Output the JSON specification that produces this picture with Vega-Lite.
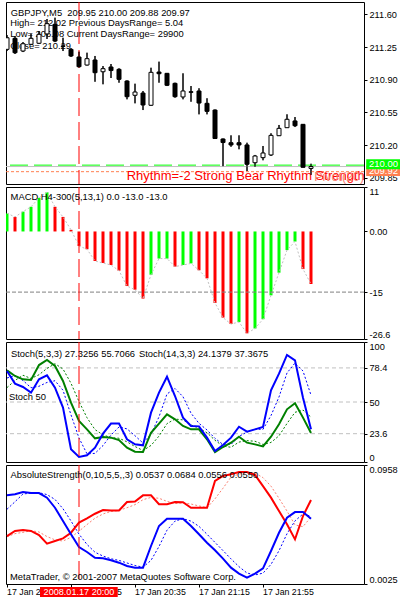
{
"$schema":"https://vega.github.io/schema/vega-lite/v6.json",
"background":"white",
"padding":{"left":2,"top":1,"right":0,"bottom":0},
"bounds":"flush",
"spacing":3,
"config":{
 "view":{"stroke":"black","strokeWidth":1},
 "font":"Liberation Sans",
 "axis":{"labelFont":"Liberation Sans","labelFontSize":9.2,"labelColor":"black","tickColor":"black","tickSize":3,"tickWidth":1,"domain":false,"grid":false,"labelPadding":2,"labelOverlap":false},
 "text":{"font":"Liberation Sans","fontSize":9.4,"align":"left","baseline":"alphabetic","color":"black"}
},
"datasets":{"bars":[
{"i":0,"o":211.225,"h":211.378,"l":211.207,"c":211.349,"m":4.5,"md":"up","s5":75.8,"s5s":70.0,"s14":76.4,"s14s":62.0,"ab":0.0720,"abs":0.0611,"ar":0.0401,"ars":0.0395},
{"i":1,"o":211.343,"h":211.368,"l":211.175,"c":211.189,"m":3.6,"md":"down","s5":65.3,"s5s":72.0,"s14":71.7,"s14s":68.0,"ab":0.0728,"abs":0.0670,"ar":0.0441,"ars":0.0420},
{"i":2,"o":211.207,"h":211.303,"l":211.196,"c":211.285,"m":4.9,"md":"up","s5":62.5,"s5s":67.9,"s14":68.9,"s14s":72.3,"ab":0.0746,"abs":0.0731,"ar":0.0448,"ars":0.0430},
{"i":3,"o":211.279,"h":211.392,"l":211.271,"c":211.343,"m":6.1,"md":"up","s5":57.8,"s5s":61.9,"s14":68.3,"s14s":69.6,"ab":0.0738,"abs":0.0737,"ar":0.0441,"ars":0.0443},
{"i":4,"o":211.290,"h":211.421,"l":211.282,"c":211.386,"m":8.3,"md":"up","s5":68.9,"s5s":63.1,"s14":80.8,"s14s":72.7,"ab":0.0738,"abs":0.0741,"ar":0.0409,"ars":0.0433},
{"i":5,"o":211.390,"h":211.550,"l":211.336,"c":211.500,"m":9.7,"md":"up","s5":72.2,"s5s":66.3,"s14":85.0,"s14s":78.0,"ab":0.0702,"abs":0.0726,"ar":0.0341,"ars":0.0397},
{"i":6,"o":211.493,"h":211.564,"l":211.303,"c":211.314,"m":6.1,"md":"down","s5":62.0,"s5s":67.7,"s14":80.0,"s14s":81.9,"ab":0.0623,"abs":0.0688,"ar":0.0362,"ars":0.0371},
{"i":7,"o":211.261,"h":211.349,"l":211.207,"c":211.257,"m":3.6,"md":"down","s5":45.3,"s5s":59.8,"s14":67.5,"s14s":77.5,"ab":0.0519,"abs":0.0615,"ar":0.0383,"ars":0.0362},
{"i":8,"o":211.225,"h":211.239,"l":211.143,"c":211.154,"m":0.4,"md":"down","s5":10.6,"s5s":39.3,"s14":49.4,"s14s":65.6,"ab":0.0415,"abs":0.0519,"ar":0.0427,"ars":0.0391},
{"i":9,"o":211.143,"h":211.200,"l":211.030,"c":211.039,"m":-3.6,"md":"down","s5":4.2,"s5s":20.0,"s14":34.2,"s14s":50.4,"ab":0.0315,"abs":0.0416,"ar":0.0506,"ars":0.0439},
{"i":10,"o":211.057,"h":211.189,"l":211.052,"c":211.125,"m":-4.4,"md":"down","s5":5.6,"s5s":6.8,"s14":27.2,"s14s":36.9,"ab":0.0276,"abs":0.0335,"ar":0.0540,"ars":0.0491},
{"i":11,"o":211.111,"h":211.154,"l":210.878,"c":210.975,"m":-7.3,"md":"down","s5":11.9,"s5s":7.2,"s14":19.7,"s14s":27.0,"ab":0.0231,"abs":0.0274,"ar":0.0576,"ars":0.0541},
{"i":12,"o":210.985,"h":211.046,"l":210.851,"c":211.018,"m":-7.8,"md":"down","s5":23.6,"s5s":13.7,"s14":20.8,"s14s":22.6,"ab":0.0226,"abs":0.0244,"ar":0.0605,"ars":0.0574},
{"i":13,"o":211.036,"h":211.068,"l":210.918,"c":210.998,"m":-8.3,"md":"down","s5":32.0,"s5s":22.5,"s14":20.3,"s14s":20.3,"ab":0.0211,"abs":0.0223,"ar":0.0601,"ars":0.0594},
{"i":14,"o":211.011,"h":211.022,"l":210.868,"c":210.904,"m":-9.7,"md":"down","s5":32.0,"s5s":29.2,"s14":18.3,"s14s":19.8,"ab":0.0192,"abs":0.0210,"ar":0.0601,"ars":0.0602},
{"i":15,"o":210.886,"h":210.893,"l":210.690,"c":210.718,"m":-13.5,"md":"down","s5":18.9,"s5s":27.6,"s14":11.9,"s14s":16.8,"ab":0.0166,"abs":0.0190,"ar":0.0668,"ars":0.0623},
{"i":16,"o":210.733,"h":210.857,"l":210.647,"c":210.768,"m":-14.4,"md":"down","s5":14.7,"s5s":21.9,"s14":8.6,"s14s":12.9,"ab":0.0153,"abs":0.0170,"ar":0.0671,"ars":0.0647},
{"i":17,"o":210.757,"h":210.779,"l":210.575,"c":210.629,"m":-16.6,"md":"down","s5":13.9,"s5s":15.8,"s14":8.3,"s14s":9.6,"ab":0.0153,"abs":0.0157,"ar":0.0720,"ars":0.0686},
{"i":18,"o":210.626,"h":211.028,"l":210.620,"c":210.979,"m":-10.7,"md":"up","s5":41.1,"s5s":23.2,"s14":24.4,"s14s":13.8,"ab":0.0323,"abs":0.0210,"ar":0.0720,"ars":0.0704},
{"i":19,"o":210.982,"h":211.093,"l":210.868,"c":210.964,"m":-6.7,"md":"up","s5":57.8,"s5s":37.6,"s14":32.0,"s14s":21.6,"ab":0.0480,"abs":0.0319,"ar":0.0650,"ars":0.0697},
{"i":20,"o":210.968,"h":210.972,"l":210.832,"c":210.840,"m":-6.7,"md":"up","s5":71.1,"s5s":56.7,"s14":39.7,"s14s":32.0,"ab":0.0537,"abs":0.0447,"ar":0.0650,"ars":0.0673},
{"i":21,"o":210.861,"h":210.868,"l":210.707,"c":210.718,"m":-8.7,"md":"down","s5":55.0,"s5s":61.3,"s14":35.6,"s14s":35.8,"ab":0.0537,"abs":0.0518,"ar":0.0668,"ars":0.0656},
{"i":22,"o":210.715,"h":210.968,"l":210.690,"c":210.779,"m":-8.3,"md":"up","s5":37.0,"s5s":54.4,"s14":30.0,"s14s":35.1,"ab":0.0537,"abs":0.0537,"ar":0.0666,"ars":0.0661},
{"i":23,"o":210.771,"h":210.832,"l":210.664,"c":210.765,"m":-7.9,"md":"up","s5":30.0,"s5s":40.7,"s14":27.2,"s14s":30.9,"ab":0.0480,"abs":0.0518,"ar":0.0623,"ars":0.0652},
{"i":24,"o":210.779,"h":210.808,"l":210.529,"c":210.650,"m":-9.6,"md":"down","s5":29.7,"s5s":32.2,"s14":27.2,"s14s":28.1,"ab":0.0415,"abs":0.0477,"ar":0.0623,"ars":0.0637},
{"i":25,"o":210.647,"h":210.701,"l":210.529,"c":210.561,"m":-11.6,"md":"down","s5":20.3,"s5s":26.7,"s14":18.9,"s14s":24.4,"ab":0.0349,"abs":0.0415,"ar":0.0623,"ars":0.0623},
{"i":26,"o":210.575,"h":210.581,"l":210.265,"c":210.270,"m":-17.7,"md":"down","s5":9.2,"s5s":19.7,"s14":8.3,"s14s":18.1,"ab":0.0289,"abs":0.0351,"ar":0.0833,"ars":0.0693},
{"i":27,"o":210.265,"h":210.270,"l":209.973,"c":210.227,"m":-21.3,"md":"down","s5":14.2,"s5s":14.6,"s14":12.5,"s14s":13.2,"ab":0.0224,"abs":0.0287,"ar":0.0872,"ars":0.0776},
{"i":28,"o":210.225,"h":210.304,"l":210.182,"c":210.201,"m":-22.9,"md":"down","s5":20.3,"s5s":14.6,"s14":16.1,"s14s":12.3,"ab":0.0153,"abs":0.0222,"ar":0.0885,"ars":0.0863},
{"i":29,"o":210.225,"h":210.304,"l":210.155,"c":210.201,"m":-22.4,"md":"up","s5":29.4,"s5s":21.3,"s14":21.1,"s14s":16.6,"ab":0.0106,"abs":0.0161,"ar":0.0903,"ars":0.0887},
{"i":30,"o":210.201,"h":210.225,"l":209.922,"c":209.994,"m":-25.2,"md":"down","s5":25.3,"s5s":25.0,"s14":16.1,"s14s":17.8,"ab":0.0075,"abs":0.0111,"ar":0.0903,"ars":0.0897},
{"i":31,"o":210.011,"h":210.094,"l":209.965,"c":210.083,"m":-24.0,"md":"up","s5":27.2,"s5s":27.3,"s14":14.7,"s14s":17.3,"ab":0.0106,"abs":0.0096,"ar":0.0880,"ars":0.0895},
{"i":32,"o":210.065,"h":210.190,"l":210.037,"c":210.115,"m":-21.7,"md":"up","s5":29.2,"s5s":27.2,"s14":13.0,"s14s":14.6,"ab":0.0148,"abs":0.0110,"ar":0.0793,"ars":0.0859},
{"i":33,"o":210.094,"h":210.326,"l":210.083,"c":210.304,"m":-15.8,"md":"up","s5":59.7,"s5s":38.7,"s14":21.1,"s14s":16.3,"ab":0.0284,"abs":0.0179,"ar":0.0702,"ars":0.0792},
{"i":34,"o":210.300,"h":210.415,"l":210.297,"c":210.379,"m":-10.2,"md":"up","s5":73.6,"s5s":54.2,"s14":31.4,"s14s":21.8,"ab":0.0427,"abs":0.0286,"ar":0.0597,"ars":0.0697},
{"i":35,"o":210.386,"h":210.529,"l":210.386,"c":210.476,"m":-4.6,"md":"up","s5":89.2,"s5s":74.2,"s14":43.9,"s14s":32.1,"ab":0.0545,"abs":0.0419,"ar":0.0493,"ars":0.0597},
{"i":36,"o":210.458,"h":210.500,"l":210.393,"c":210.407,"m":-2.5,"md":"up","s5":84.7,"s5s":82.5,"s14":48.9,"s14s":41.4,"ab":0.0589,"abs":0.0520,"ar":0.0375,"ars":0.0488},
{"i":37,"o":210.422,"h":210.425,"l":209.960,"c":209.962,"m":-9.3,"md":"down","s5":53.6,"s5s":75.8,"s14":37.0,"s14s":43.3,"ab":0.0589,"abs":0.0574,"ar":0.0558,"ars":0.0475},
{"i":38,"o":209.95,"h":210.00,"l":209.88,"c":209.97,"m":-13.0,"md":"down","s5":27.3,"s5s":55.7,"s14":24.1,"s14s":37.4,"ab":0.0537,"abs":0.0556,"ar":0.0684,"ars":0.0550}
]},
"vconcat":[
{"width":358,"height":182,
 "layer":[
  {"data":{"name":"bars"},"mark":{"type":"rule","color":"black","clip":true},"encoding":{"x":{"field":"i","type":"quantitative","scale":{"domain":[-0.125,44.625],"nice":false,"zero":false,"padding":0},"axis":null},"y":{"field":"l","type":"quantitative","scale":{"domain":[209.783,211.732],"zero":false,"nice":false},"axis":{"title":null,"orient":"right","values":[209.85,210.2,210.55,210.9,211.25,211.6],"tickCount":20,"format":".2f","labelOverlap":false}},"y2":{"field":"h"}}},
  {"data":{"values":[{}]},"mark":{"type":"rule","color":"#ff7f50","strokeDash":[3,2]},"encoding":{"y":{"datum":209.915,"type":"quantitative","scale":{"domain":[209.783,211.732],"zero":false,"nice":false}}}},
  {"data":{"values":[{}]},"mark":{"type":"rule","color":"#c0c0c0"},"encoding":{"y":{"datum":209.97,"type":"quantitative","scale":{"domain":[209.783,211.732],"zero":false,"nice":false}}}},
  {"data":{"values":[{}]},"mark":{"type":"rule","color":"#00ff00","strokeDash":[18,6]},"encoding":{"y":{"datum":209.985,"type":"quantitative","scale":{"domain":[209.783,211.732],"zero":false,"nice":false}}}},
  {"data":{"values":[{}]},"mark":{"type":"rule","color":"#ff0000","strokeDash":[18,6]},"encoding":{"x":{"datum":9,"type":"quantitative","scale":{"domain":[-0.125,44.625],"nice":false,"zero":false,"padding":0},"axis":null}}},
  {"data":{"values":[{}]},"mark":{"type":"text","text":"GBPJPY,M5\u00a0 209.95 210.00 209.88 209.97"},"encoding":{"x":{"datum":0.46,"type":"quantitative","scale":{"domain":[-0.125,44.625],"nice":false,"zero":false,"padding":0},"axis":null},"y":{"datum":211.585,"type":"quantitative","scale":{"domain":[209.783,211.732],"zero":false,"nice":false}}}},
  {"data":{"values":[{}]},"mark":{"type":"text","text":"High= 212.02 Previous DaysRange= 5.04"},"encoding":{"x":{"datum":0.4,"type":"quantitative","scale":{"domain":[-0.125,44.625],"nice":false,"zero":false,"padding":0},"axis":null},"y":{"datum":211.476,"type":"quantitative","scale":{"domain":[209.783,211.732],"zero":false,"nice":false}}}},
  {"data":{"values":[{}]},"mark":{"type":"text","text":"Low= 206.08 Current DaysRange= 29900"},"encoding":{"x":{"datum":0.4,"type":"quantitative","scale":{"domain":[-0.125,44.625],"nice":false,"zero":false,"padding":0},"axis":null},"y":{"datum":211.354,"type":"quantitative","scale":{"domain":[209.783,211.732],"zero":false,"nice":false}}}},
  {"data":{"values":[{}]},"mark":{"type":"text","text":"Close= 210.29"},"encoding":{"x":{"datum":0.4,"type":"quantitative","scale":{"domain":[-0.125,44.625],"nice":false,"zero":false,"padding":0},"axis":null},"y":{"datum":211.228,"type":"quantitative","scale":{"domain":[209.783,211.732],"zero":false,"nice":false}}}},
  {"data":{"values":[{}]},"mark":{"type":"text","text":"Rhythm=-2 Strong Bear Rhythm Strength","fontSize":13,"color":"#ff0000","clip":true},"encoding":{"x":{"datum":14.96,"type":"quantitative","scale":{"domain":[-0.125,44.625],"nice":false,"zero":false,"padding":0},"axis":null},"y":{"datum":209.823,"type":"quantitative","scale":{"domain":[209.783,211.732],"zero":false,"nice":false}}}},
  {"data":{"values":[{}]},"mark":{"type":"text","text":"Pivot(20)","fontSize":12.5,"color":"#fa8072","clip":true},"encoding":{"x":{"datum":38.4,"type":"quantitative","scale":{"domain":[-0.125,44.625],"nice":false,"zero":false,"padding":0},"axis":null},"y":{"datum":209.81,"type":"quantitative","scale":{"domain":[209.783,211.732],"zero":false,"nice":false}}}},
  {"data":{"name":"bars"},"mark":{"type":"rule","color":"black","clip":true},"encoding":{"x":{"field":"i","type":"quantitative","scale":{"domain":[-0.125,44.625],"nice":false,"zero":false,"padding":0},"axis":null},"y":{"field":"l","type":"quantitative","scale":{"domain":[209.783,211.732],"zero":false,"nice":false}},"y2":{"field":"h"}}},
  {"data":{"name":"bars"},"mark":{"type":"bar","size":4,"stroke":"black","strokeWidth":1,"orient":"vertical","clip":true},"encoding":{"x":{"field":"i","type":"quantitative","scale":{"domain":[-0.125,44.625],"nice":false,"zero":false,"padding":0},"axis":null},"y":{"field":"o","type":"quantitative","scale":{"domain":[209.783,211.732],"zero":false,"nice":false}},"y2":{"field":"c"},"color":{"condition":{"test":"datum.c > datum.o","value":"white"},"value":"black"}}},
  {"data":{"values":[{}]},"mark":{"type":"rect","color":"#ff7f50"},"encoding":{"x":{"datum":44.9,"type":"quantitative","scale":{"domain":[-0.125,44.625],"nice":false,"zero":false,"padding":0},"axis":null},"x2":{"datum":49.2},"y":{"datum":209.869,"type":"quantitative","scale":{"domain":[209.783,211.732],"zero":false,"nice":false}},"y2":{"datum":209.981}}},
  {"data":{"values":[{}]},"mark":{"type":"text","text":"209.92","fontSize":9.5,"color":"white","baseline":"middle"},"encoding":{"x":{"datum":45.25,"type":"quantitative","scale":{"domain":[-0.125,44.625],"nice":false,"zero":false,"padding":0},"axis":null},"y":{"datum":209.924,"type":"quantitative","scale":{"domain":[209.783,211.732],"zero":false,"nice":false}}}},
  {"data":{"values":[{}]},"mark":{"type":"rect","color":"#00ff00"},"encoding":{"x":{"datum":44.9,"type":"quantitative","scale":{"domain":[-0.125,44.625],"nice":false,"zero":false,"padding":0},"axis":null},"x2":{"datum":49.2},"y":{"datum":209.940,"type":"quantitative","scale":{"domain":[209.783,211.732],"zero":false,"nice":false}},"y2":{"datum":210.048}}},
  {"data":{"values":[{}]},"mark":{"type":"text","text":"210.00","fontSize":9.5,"color":"white","baseline":"middle"},"encoding":{"x":{"datum":45.25,"type":"quantitative","scale":{"domain":[-0.125,44.625],"nice":false,"zero":false,"padding":0},"axis":null},"y":{"datum":209.994,"type":"quantitative","scale":{"domain":[209.783,211.732],"zero":false,"nice":false}}}}
 ]},
{"width":358,"height":152,
 "layer":[
  {"data":{"name":"bars"},"mark":{"type":"bar","size":3,"orient":"vertical","clip":true},"encoding":{"x":{"field":"i","type":"quantitative","scale":{"domain":[-0.125,44.625],"nice":false,"zero":false,"padding":0},"axis":null},"y":{"field":"m","type":"quantitative","scale":{"domain":[-26.6,11],"zero":false,"nice":false},"axis":{"title":null,"orient":"right","values":[11,0,-15,-26.6],"tickCount":20,"labelFlush":true,"labelOverlap":false,"labelExpr":"datum.value == 11 ? '11' : datum.value == 0 ? '0.00' : datum.value == -15 ? '-15' : '-26.6'"}},"y2":{"datum":0},"color":{"field":"md","type":"nominal","scale":{"domain":["up","down"],"range":["#00ff00","#ff0000"]},"legend":null}}},
  {"data":{"name":"bars"},"mark":{"type":"line","color":"#c0c0c0","strokeWidth":1,"strokeDash":[2,2]},"encoding":{"x":{"field":"i","type":"quantitative","scale":{"domain":[-0.125,44.625],"nice":false,"zero":false,"padding":0},"axis":null},"y":{"field":"m","type":"quantitative","scale":{"domain":[-26.6,11],"zero":false,"nice":false}}}},
  {"data":{"values":[{}]},"mark":{"type":"rule","color":"#808080","strokeDash":[4,2]},"encoding":{"y":{"datum":-15,"type":"quantitative","scale":{"domain":[-26.6,11],"zero":false,"nice":false}}}},
  {"data":{"values":[{}]},"mark":{"type":"rule","color":"#ff0000","strokeDash":[18,6]},"encoding":{"x":{"datum":9,"type":"quantitative","scale":{"domain":[-0.125,44.625],"nice":false,"zero":false,"padding":0},"axis":null}}},
  {"data":{"values":[{}]},"mark":{"type":"text","text":"MACD H4-300(5,13,1) 0.0 -13.0 -13.0"},"encoding":{"x":{"datum":0.45,"type":"quantitative","scale":{"domain":[-0.125,44.625],"nice":false,"zero":false,"padding":0},"axis":null},"y":{"datum":7.87,"type":"quantitative","scale":{"domain":[-26.6,11],"zero":false,"nice":false}}}}
 ]},
{"width":358,"height":120,
 "layer":[
  {"data":{"values":[{"lv":78.4},{"lv":50},{"lv":23.6}]},"mark":{"type":"rule","color":"#c0c0c0","strokeDash":[4,3]},"encoding":{"y":{"field":"lv","type":"quantitative","scale":{"domain":[0,100],"nice":false},"axis":{"title":null,"orient":"right","values":[0,23.6,50,78.4,100],"tickCount":20,"labelFlush":true,"labelOverlap":false,"labelExpr":"datum.value + ''"}}}},
  {"data":{"name":"bars"},"mark":{"type":"line","color":"#0000ff","strokeWidth":1,"strokeDash":[2,2]},"encoding":{"x":{"field":"i","type":"quantitative","scale":{"domain":[-0.125,44.625],"nice":false,"zero":false,"padding":0},"axis":null},"y":{"field":"s5s","type":"quantitative","scale":{"domain":[0,100],"nice":false}}}},
  {"data":{"name":"bars"},"mark":{"type":"line","color":"#008000","strokeWidth":1,"strokeDash":[2,2]},"encoding":{"x":{"field":"i","type":"quantitative","scale":{"domain":[-0.125,44.625],"nice":false,"zero":false,"padding":0},"axis":null},"y":{"field":"s14s","type":"quantitative","scale":{"domain":[0,100],"nice":false}}}},
  {"data":{"name":"bars"},"mark":{"type":"line","color":"#008000","strokeWidth":2},"encoding":{"x":{"field":"i","type":"quantitative","scale":{"domain":[-0.125,44.625],"nice":false,"zero":false,"padding":0},"axis":null},"y":{"field":"s14","type":"quantitative","scale":{"domain":[0,100],"nice":false}}}},
  {"data":{"name":"bars"},"mark":{"type":"line","color":"#0000ff","strokeWidth":2},"encoding":{"x":{"field":"i","type":"quantitative","scale":{"domain":[-0.125,44.625],"nice":false,"zero":false,"padding":0},"axis":null},"y":{"field":"s5","type":"quantitative","scale":{"domain":[0,100],"nice":false}}}},
  {"data":{"values":[{}]},"mark":{"type":"rule","color":"#ff0000","strokeDash":[18,6]},"encoding":{"x":{"datum":9,"type":"quantitative","scale":{"domain":[-0.125,44.625],"nice":false,"zero":false,"padding":0},"axis":null}}},
  {"data":{"values":[{}]},"mark":{"type":"text","text":"Stoch(5,3,3) 27.3256 55.7066"},"encoding":{"x":{"datum":0.5,"type":"quantitative","scale":{"domain":[-0.125,44.625],"nice":false,"zero":false,"padding":0},"axis":null},"y":{"datum":87.75,"type":"quantitative","scale":{"domain":[0,100],"nice":false}}}},
  {"data":{"values":[{}]},"mark":{"type":"text","text":"Stoch(14,3,3) 24.1379 37.3675"},"encoding":{"x":{"datum":16.5,"type":"quantitative","scale":{"domain":[-0.125,44.625],"nice":false,"zero":false,"padding":0},"axis":null},"y":{"datum":87.75,"type":"quantitative","scale":{"domain":[0,100],"nice":false}}}},
  {"data":{"values":[{}]},"mark":{"type":"text","text":"Stoch 50"},"encoding":{"x":{"datum":0.25,"type":"quantitative","scale":{"domain":[-0.125,44.625],"nice":false,"zero":false,"padding":0},"axis":null},"y":{"datum":51.7,"type":"quantitative","scale":{"domain":[0,100],"nice":false}}}}
 ]},
{"width":358,"height":119,
 "layer":[
  {"data":{"name":"bars"},"mark":{"type":"line","color":"#fa8072","strokeWidth":1,"strokeDash":[2,2]},"encoding":{"x":{"field":"i","type":"quantitative","scale":{"domain":[-0.125,44.625],"nice":false,"zero":false,"padding":0},"axis":{"title":null,"orient":"bottom","values":[0,8,16,24,32],"tickCount":20,"labels":false,"ticks":true,"tickSize":3,"domain":false}},"y":{"field":"ars","type":"quantitative","scale":{"domain":[0.0025,0.0958],"zero":false,"nice":false},"axis":{"title":null,"orient":"right","values":[0.0025,0.0958],"tickCount":20,"labelFlush":true,"labelOverlap":false,"format":".4f"}}}},
  {"data":{"name":"bars"},"mark":{"type":"line","color":"#0000ff","strokeWidth":1,"strokeDash":[2,2]},"encoding":{"x":{"field":"i","type":"quantitative","scale":{"domain":[-0.125,44.625],"nice":false,"zero":false,"padding":0}},"y":{"field":"abs","type":"quantitative","scale":{"domain":[0.0025,0.0958],"zero":false,"nice":false}}}},
  {"data":{"name":"bars"},"mark":{"type":"line","color":"#ff0000","strokeWidth":2},"encoding":{"x":{"field":"i","type":"quantitative","scale":{"domain":[-0.125,44.625],"nice":false,"zero":false,"padding":0}},"y":{"field":"ar","type":"quantitative","scale":{"domain":[0.0025,0.0958],"zero":false,"nice":false}}}},
  {"data":{"name":"bars"},"mark":{"type":"line","color":"#0000ff","strokeWidth":2},"encoding":{"x":{"field":"i","type":"quantitative","scale":{"domain":[-0.125,44.625],"nice":false,"zero":false,"padding":0}},"y":{"field":"ab","type":"quantitative","scale":{"domain":[0.0025,0.0958],"zero":false,"nice":false}}}},
  {"data":{"values":[{}]},"mark":{"type":"rule","color":"#ff0000","strokeDash":[18,6]},"encoding":{"x":{"datum":9,"type":"quantitative","scale":{"domain":[-0.125,44.625],"nice":false,"zero":false,"padding":0}}}},
  {"data":{"values":[{}]},"mark":{"type":"text","text":"AbsoluteStrength(0,10,5,5,,3) 0.0537 0.0684 0.0556 0.0550"},"encoding":{"x":{"datum":0.45,"type":"quantitative","scale":{"domain":[-0.125,44.625],"nice":false,"zero":false,"padding":0}},"y":{"datum":0.0854,"type":"quantitative","scale":{"domain":[0.0025,0.0958],"zero":false,"nice":false}}}},
  {"data":{"values":[{}]},"mark":{"type":"text","text":"MetaTrader, © 2001-2007 MetaQuotes Software Corp."},"encoding":{"x":{"datum":0.375,"type":"quantitative","scale":{"domain":[-0.125,44.625],"nice":false,"zero":false,"padding":0}},"y":{"datum":0.00587,"type":"quantitative","scale":{"domain":[0.0025,0.0958],"zero":false,"nice":false}}}}
 ]},
{"width":358,"height":10,
 "view":{"stroke":null},
 "layer":[
  {"data":{"values":[{"i":0,"t":"17 Jan 2008"},{"i":8,"t":"17 Jan 19:55"},{"i":16,"t":"17 Jan 20:35"},{"i":24,"t":"17 Jan 21:15"},{"i":32,"t":"17 Jan 21:55"}]},"mark":{"type":"text","baseline":"middle","fontSize":8.8},"encoding":{"x":{"field":"i","type":"quantitative","scale":{"domain":[-0.125,44.625],"nice":false,"zero":false,"padding":0},"axis":null},"text":{"field":"t"}}},
  {"data":{"values":[{}]},"mark":{"type":"rect","color":"#ff0000"},"encoding":{"x":{"datum":4.125,"type":"quantitative","scale":{"domain":[-0.125,44.625],"nice":false,"zero":false,"padding":0},"axis":null},"x2":{"datum":13.84}}},
  {"data":{"values":[{}]},"mark":{"type":"text","text":"2008.01.17 20:00","align":"center","baseline":"middle","color":"white","fontSize":9.1},"encoding":{"x":{"datum":9,"type":"quantitative","scale":{"domain":[-0.125,44.625],"nice":false,"zero":false,"padding":0},"axis":null}}}
 ]}
]
}
